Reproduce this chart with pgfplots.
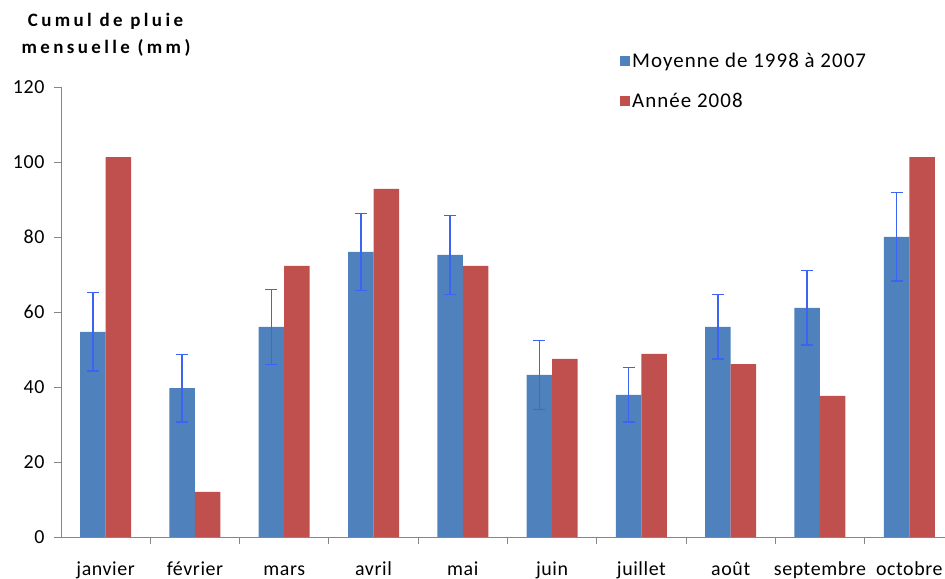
\documentclass[border=0pt]{standalone}
\usepackage{fontspec}
\setmainfont{Carlito}[LetterSpace=3]
\newfontfamily\titlefont{Carlito}[LetterSpace=18]
\newfontfamily\legfont{Carlito}[LetterSpace=5]
\usepackage{pgfplots}
\pgfplotsset{compat=1.18}
\usepackage{pgfplotstable}
\definecolor{barblue}{HTML}{4F81BD}
\definecolor{barred}{HTML}{C0504D}
\definecolor{errblue}{HTML}{3B64F5}
\definecolor{axgray}{HTML}{868686}
\pgfplotstableread{
x  moy   err   an
0  54.7  10.5  101.3
1  39.7   9.0   12.0
2  56.0  10.0   72.3
3  76.0  10.3   92.8
4  75.2  10.5   72.3
5  43.2   9.2   47.5
6  37.9   7.3   48.8
7  56.0   8.6   46.1
8  61.1   9.9   37.6
9  80.0  11.8  101.3
}\datatable
\begin{document}
\begin{tikzpicture}
\useasboundingbox (0,0) rectangle (945bp,579bp);
\begin{axis}[
  at={(61bp,42bp)}, anchor=south west,
  scale only axis, width=884bp, height=450bp,
  xmin=-0.5, xmax=9.4, ymin=0, ymax=120,
  axis x line*=bottom, axis y line*=left,
  axis line style={draw=axgray, line width=0.8bp},
  ybar, bar width=25.5bp,
  ytick={0,20,...,120},
  xtick={0,...,9},
  xticklabels={janvier,février,mars,avril,mai,juin,juillet,août,septembre,octobre},
  minor x tick num=1,
  major x tick style={draw=none},
  minor x tick style={draw=axgray, line width=0.8bp},
  major tick length=7bp, minor tick length=7bp,
  tick align=outside,
  ytick style={draw=axgray, line width=0.8bp},
  tick label style={font=\fontsize{20}{22}\selectfont, text=black},
  /pgf/number format/assume math mode=true,
  yticklabel style={xshift=-6bp},
  xticklabel style={anchor=base, yshift=-31bp},
  legend style={at={(0.629,1.085)}, anchor=north west, draw=none, fill=none,
    font=\legfont\fontsize{21}{23}\selectfont, row sep=20bp, legend cell align=left},
  legend image code/.code={\fill[#1] (0bp,-5bp) rectangle (10bp,5bp);},
]
\addplot[fill=barblue, draw=none, bar shift=-12.75bp,
  error bars/.cd, y dir=both, y explicit,
  error bar style={draw=errblue, line width=1.5bp},
  error mark options={draw=errblue, line width=1.5bp, mark size=6bp, rotate=90}]
  table[x=x, y=moy, y error=err]{\datatable};
\addplot[fill=barred, draw=none, bar shift=12.75bp]
  table[x=x, y=an]{\datatable};
\legend{Moyenne de 1998 à 2007, Année 2008}
\end{axis}
\node[font=\titlefont\bfseries\fontsize{19}{21}\selectfont, anchor=base] at (105.5bp,552bp) {Cumul de pluie};
\node[font=\titlefont\bfseries\fontsize{19}{21}\selectfont, anchor=base] at (106bp,525bp) {mensuelle (mm)};
\end{tikzpicture}
\end{document}
